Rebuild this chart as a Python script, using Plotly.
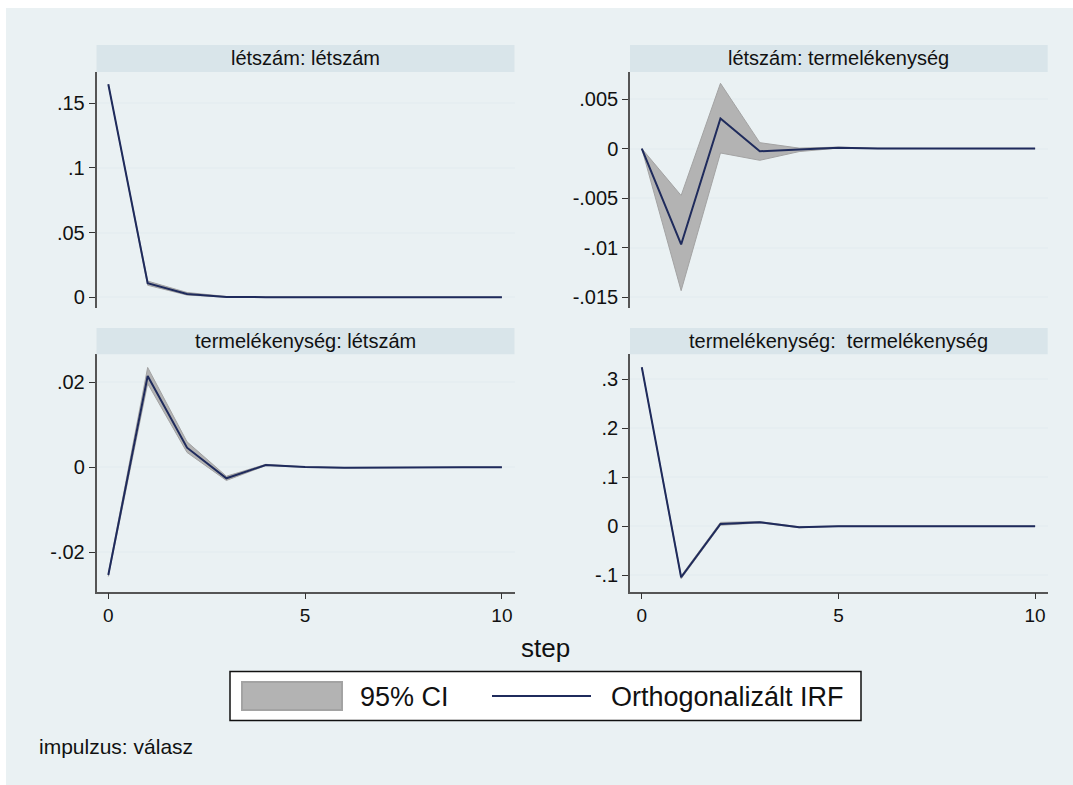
import plotly.graph_objects as go
from plotly.subplots import make_subplots

W, H = 1073, 785

steps = [0, 1, 2, 3, 4, 5, 6, 7, 8, 9, 10]

titles = ["létszám: létszám", "létszám: termelékenység",
          "termelékenység: létszám", "termelékenység:  termelékenység"]

# létszám: létszám
irf_ll = [0.1647, 0.0108, 0.0026, 0.0003, 0.0001, 0.0, 0.0, 0.0, 0.0, 0.0, 0.0]
lo_ll = [0.1647, 0.0093, 0.0017, 0.0001, 0.0, 0.0, 0.0, 0.0, 0.0, 0.0, 0.0]
hi_ll = [0.1647, 0.0125, 0.0037, 0.0006, 0.0002, 0.0, 0.0, 0.0, 0.0, 0.0, 0.0]

# létszám: termelékenység
irf_lt = [0.0, -0.00967, 0.00305, -0.00027, -0.0001, 0.0001, 0.00002, 0.0, 0.0, 0.0, 0.0]
lo_lt = [0.0, -0.01433, -0.00044, -0.00118, -0.0003, 0.00005, 0.0, 0.0, 0.0, 0.0, 0.0]
hi_lt = [0.0, -0.00473, 0.00659, 0.0006, 0.00005, 0.00015, 0.00004, 0.0, 0.0, 0.0, 0.0]

# termelékenység: létszám
irf_tl = [-0.02534, 0.02148, 0.00461, -0.00259, 0.00054, 0.00007, -0.0001, -0.00003, 0.0, 0.0, 0.0]
lo_tl = [-0.0257, 0.0197, 0.0035, -0.0031, 0.0004, 0.0, -0.00015, -0.00005, 0.0, 0.0, 0.0]
hi_tl = [-0.0250, 0.0235, 0.0060, -0.0021, 0.0007, 0.0001, -0.00005, 0.0, 0.0, 0.0, 0.0]

# termelékenység: termelékenység
irf_tt = [0.3245, -0.104, 0.0047, 0.0082, -0.002, 0.0002, 0.0001, 0.0, 0.0, 0.0, 0.0]
lo_tt = [0.3245, -0.107, 0.002, 0.007, -0.003, 0.0, 0.0, 0.0, 0.0, 0.0, 0.0]
hi_tt = [0.3245, -0.101, 0.008, 0.0095, -0.001, 0.0004, 0.0001, 0.0, 0.0, 0.0, 0.0]

yticks_ll = [0, 0.05, 0.1, 0.15]
ytext_ll = ["0", ".05", ".1", ".15"]
yticks_lt = [-0.015, -0.01, -0.005, 0, 0.005]
ytext_lt = ["-.015", "-.01", "-.005", "0", ".005"]
yticks_tl = [-0.02, 0, 0.02]
ytext_tl = ["-.02", "0", ".02"]
yticks_tt = [-0.1, 0, 0.1, 0.2, 0.3]
ytext_tt = ["-.1", "0", ".1", ".2", ".3"]

xticks = [0, 5, 10]
xtext = ["0", "5", "10"]

legend_labels = ["95% CI", "Orthogonalizált IRF"]
xtitle = "step"
note = "impulzus: válasz"

NAVY = "#1f2b5c"
CI_FILL = "#b3b3b3"
CI_LINE = "#a3a3a3"
BG = "#eaf1f3"
STRIP = "#d9e5ea"
GRID = "#e6eef1"
AXC = "#555555"
FONT = "Liberation Sans, Arial, sans-serif"


def px(x):
    return x / W


def py(y):
    return 1 - y / H


fig = make_subplots(rows=2, cols=2)

panels = [
    (1, 1, irf_ll, lo_ll, hi_ll, [-0.0083, 0.1742], yticks_ll, ytext_ll),
    (1, 2, irf_lt, lo_lt, hi_lt, [-0.01608, 0.00773], yticks_lt, ytext_lt),
    (2, 1, irf_tl, lo_tl, hi_tl, [-0.02927, 0.02659], yticks_tl, ytext_tl),
    (2, 2, irf_tt, lo_tt, hi_tt, [-0.1335, 0.351], yticks_tt, ytext_tt),
]

xdom = {1: [px(96.5), px(514.5)], 2: [px(630), px(1047.7)]}
ydom = {1: [py(308), py(72)], 2: [py(591.7), py(354.3)]}
strip_y = {1: (45, 72), 2: (328, 354.3)}
strip_x = {1: (96.5, 514.5), 2: (630, 1047.7)}

shapes = [dict(type="rect", xref="paper", yref="paper",
               x0=px(6), x1=1.0, y0=0.0, y1=py(8),
               fillcolor=BG, line=dict(width=0), layer="below")]
annotations = []

for i, (r, c, irf, lo, hi, yr, tv, tt) in enumerate(panels):
    fig.add_trace(go.Scatter(x=steps, y=lo, mode="lines",
                             line=dict(color=CI_LINE, width=1),
                             showlegend=False, hoverinfo="skip"), row=r, col=c)
    fig.add_trace(go.Scatter(x=steps, y=hi, mode="lines", fill="tonexty",
                             fillcolor=CI_FILL,
                             line=dict(color=CI_LINE, width=1),
                             showlegend=False, hoverinfo="skip"), row=r, col=c)
    fig.add_trace(go.Scatter(x=steps, y=irf, mode="lines",
                             line=dict(color=NAVY, width=2),
                             showlegend=False), row=r, col=c)
    bottom = (r == 2)
    fig.update_xaxes(domain=xdom[c], range=[-0.3, 10.32],
                     tickvals=xticks, ticktext=xtext,
                     showticklabels=bottom, ticks="outside" if bottom else "",
                     ticklen=6, tickwidth=1, tickcolor="#333333",
                     showline=bottom, linecolor=AXC, linewidth=1.5,
                     showgrid=False, zeroline=False,
                     tickfont=dict(family=FONT, size=19, color="#111111"),
                     row=r, col=c)
    fig.update_yaxes(domain=ydom[r], range=yr, tickvals=tv, ticktext=tt,
                     ticks="outside", ticklen=6, tickwidth=1, tickcolor="#333333",
                     showline=True, linecolor=AXC, linewidth=1.5,
                     showgrid=True, gridcolor=GRID, gridwidth=1.5,
                     zeroline=False,
                     tickfont=dict(family=FONT, size=20, color="#111111"),
                     row=r, col=c)
    sx0, sx1 = strip_x[c]
    sy0, sy1 = strip_y[r]
    shapes.append(dict(type="rect", xref="paper", yref="paper",
                       x0=px(sx0), x1=px(sx1), y0=py(sy1), y1=py(sy0),
                       fillcolor=STRIP, line=dict(width=0)))
    annotations.append(dict(text=titles[i], xref="paper", yref="paper",
                            x=px((sx0 + sx1) / 2), y=py((sy0 + sy1) / 2),
                            xanchor="center", yanchor="middle", showarrow=False,
                            font=dict(family=FONT, size=20, color="#111111")))

# x axis title
annotations.append(dict(text=xtitle, xref="paper", yref="paper",
                        x=px(545), y=py(648), xanchor="center", yanchor="middle",
                        showarrow=False, font=dict(family=FONT, size=26, color="#111111")))

# legend box (drawn)
shapes.append(dict(type="rect", xref="paper", yref="paper",
                   x0=px(230), x1=px(861), y0=py(720.5), y1=py(671.5),
                   fillcolor="white", line=dict(color="#111111", width=1.5)))
shapes.append(dict(type="rect", xref="paper", yref="paper",
                   x0=px(242), x1=px(342), y0=py(710), y1=py(682),
                   fillcolor=CI_FILL, line=dict(color=CI_LINE, width=2)))
shapes.append(dict(type="line", xref="paper", yref="paper",
                   x0=px(492), x1=px(591), y0=py(696), y1=py(696),
                   line=dict(color=NAVY, width=2)))
annotations.append(dict(text=legend_labels[0], xref="paper", yref="paper",
                        x=px(358), y=py(697), xanchor="left", yanchor="middle",
                        showarrow=False, font=dict(family=FONT, size=27, color="#111111")))
annotations.append(dict(text=legend_labels[1], xref="paper", yref="paper",
                        x=px(609), y=py(697), xanchor="left", yanchor="middle",
                        showarrow=False, font=dict(family=FONT, size=27, color="#111111")))

annotations.append(dict(text=note, xref="paper", yref="paper",
                        x=px(37), y=py(746), xanchor="left", yanchor="middle",
                        showarrow=False, font=dict(family=FONT, size=21, color="#111111")))

fig.update_layout(width=W, height=H, margin=dict(l=0, r=0, t=0, b=0),
                  paper_bgcolor="white", plot_bgcolor="white",
                  shapes=shapes, annotations=annotations, showlegend=False,
                  font=dict(family=FONT))

fig.write_html("out.html")
